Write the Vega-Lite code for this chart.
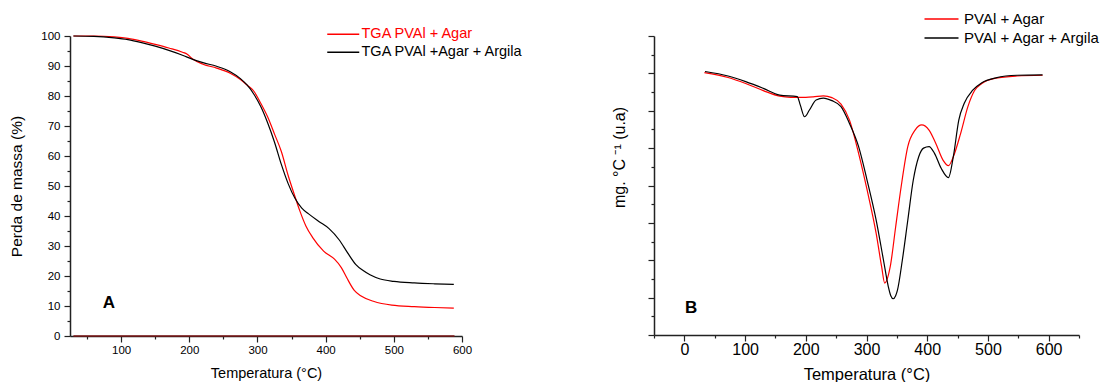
{
  "$schema": "https://vega.github.io/schema/vega-lite/v6.json",
  "background": "white",
  "padding": {"left": 9, "top": 11, "right": 0, "bottom": 0},
  "spacing": 87,
  "datasets": {
    "tga": [
      {"serie": "TGA PVAl + Agar", "temp": 30, "massa": 100},
      {"serie": "TGA PVAl + Agar", "temp": 60, "massa": 100},
      {"serie": "TGA PVAl + Agar", "temp": 90, "massa": 99.7},
      {"serie": "TGA PVAl + Agar", "temp": 110, "massa": 99.2},
      {"serie": "TGA PVAl + Agar", "temp": 130, "massa": 98.3},
      {"serie": "TGA PVAl + Agar", "temp": 150, "massa": 97.2},
      {"serie": "TGA PVAl + Agar", "temp": 170, "massa": 96.0},
      {"serie": "TGA PVAl + Agar", "temp": 190, "massa": 94.6},
      {"serie": "TGA PVAl + Agar", "temp": 197, "massa": 93.9},
      {"serie": "TGA PVAl + Agar", "temp": 205, "massa": 92.3},
      {"serie": "TGA PVAl + Agar", "temp": 220, "massa": 90.6},
      {"serie": "TGA PVAl + Agar", "temp": 240, "massa": 89.3},
      {"serie": "TGA PVAl + Agar", "temp": 260, "massa": 87.6},
      {"serie": "TGA PVAl + Agar", "temp": 275, "massa": 85.5},
      {"serie": "TGA PVAl + Agar", "temp": 285, "massa": 83.6},
      {"serie": "TGA PVAl + Agar", "temp": 295, "massa": 81.5},
      {"serie": "TGA PVAl + Agar", "temp": 305, "massa": 77.5},
      {"serie": "TGA PVAl + Agar", "temp": 315, "massa": 73.0},
      {"serie": "TGA PVAl + Agar", "temp": 325, "massa": 67.3},
      {"serie": "TGA PVAl + Agar", "temp": 335, "massa": 61.5},
      {"serie": "TGA PVAl + Agar", "temp": 345, "massa": 53.5},
      {"serie": "TGA PVAl + Agar", "temp": 355, "massa": 46.5},
      {"serie": "TGA PVAl + Agar", "temp": 362, "massa": 41.8},
      {"serie": "TGA PVAl + Agar", "temp": 371, "massa": 36.7},
      {"serie": "TGA PVAl + Agar", "temp": 381, "massa": 32.8},
      {"serie": "TGA PVAl + Agar", "temp": 397, "massa": 28.3},
      {"serie": "TGA PVAl + Agar", "temp": 413, "massa": 25.6},
      {"serie": "TGA PVAl + Agar", "temp": 423, "massa": 22.8},
      {"serie": "TGA PVAl + Agar", "temp": 431, "massa": 19.4},
      {"serie": "TGA PVAl + Agar", "temp": 442, "massa": 15.2},
      {"serie": "TGA PVAl + Agar", "temp": 452, "massa": 13.3},
      {"serie": "TGA PVAl + Agar", "temp": 470, "massa": 11.6},
      {"serie": "TGA PVAl + Agar", "temp": 497, "massa": 10.3},
      {"serie": "TGA PVAl + Agar", "temp": 530, "massa": 9.8},
      {"serie": "TGA PVAl + Agar", "temp": 560, "massa": 9.5},
      {"serie": "TGA PVAl + Agar", "temp": 588, "massa": 9.3},
      {"serie": "TGA PVAl +Agar + Argila", "temp": 30, "massa": 100},
      {"serie": "TGA PVAl +Agar + Argila", "temp": 60, "massa": 99.9},
      {"serie": "TGA PVAl +Agar + Argila", "temp": 90, "massa": 99.4},
      {"serie": "TGA PVAl +Agar + Argila", "temp": 110, "massa": 98.8},
      {"serie": "TGA PVAl +Agar + Argila", "temp": 130, "massa": 97.8},
      {"serie": "TGA PVAl +Agar + Argila", "temp": 150, "massa": 96.6},
      {"serie": "TGA PVAl +Agar + Argila", "temp": 170, "massa": 95.2},
      {"serie": "TGA PVAl +Agar + Argila", "temp": 190, "massa": 93.6},
      {"serie": "TGA PVAl +Agar + Argila", "temp": 205, "massa": 92.2},
      {"serie": "TGA PVAl +Agar + Argila", "temp": 220, "massa": 91.1},
      {"serie": "TGA PVAl +Agar + Argila", "temp": 240, "massa": 89.9},
      {"serie": "TGA PVAl +Agar + Argila", "temp": 260, "massa": 88.1},
      {"serie": "TGA PVAl +Agar + Argila", "temp": 275, "massa": 85.8},
      {"serie": "TGA PVAl +Agar + Argila", "temp": 285, "massa": 83.6},
      {"serie": "TGA PVAl +Agar + Argila", "temp": 295, "massa": 80.5},
      {"serie": "TGA PVAl +Agar + Argila", "temp": 305, "massa": 76.4},
      {"serie": "TGA PVAl +Agar + Argila", "temp": 315, "massa": 71.0},
      {"serie": "TGA PVAl +Agar + Argila", "temp": 325, "massa": 64.6},
      {"serie": "TGA PVAl +Agar + Argila", "temp": 335, "massa": 57.2},
      {"serie": "TGA PVAl +Agar + Argila", "temp": 345, "massa": 50.8},
      {"serie": "TGA PVAl +Agar + Argila", "temp": 355, "massa": 45.9},
      {"serie": "TGA PVAl +Agar + Argila", "temp": 365, "massa": 42.6},
      {"serie": "TGA PVAl +Agar + Argila", "temp": 375, "massa": 40.7},
      {"serie": "TGA PVAl +Agar + Argila", "temp": 390, "massa": 38.2},
      {"serie": "TGA PVAl +Agar + Argila", "temp": 405, "massa": 35.8},
      {"serie": "TGA PVAl +Agar + Argila", "temp": 420, "massa": 32.0},
      {"serie": "TGA PVAl +Agar + Argila", "temp": 432, "massa": 27.8},
      {"serie": "TGA PVAl +Agar + Argila", "temp": 444, "massa": 23.9},
      {"serie": "TGA PVAl +Agar + Argila", "temp": 455, "massa": 21.8},
      {"serie": "TGA PVAl +Agar + Argila", "temp": 465, "massa": 20.4},
      {"serie": "TGA PVAl +Agar + Argila", "temp": 480, "massa": 19.0},
      {"serie": "TGA PVAl +Agar + Argila", "temp": 500, "massa": 18.2},
      {"serie": "TGA PVAl +Agar + Argila", "temp": 530, "massa": 17.7},
      {"serie": "TGA PVAl +Agar + Argila", "temp": 560, "massa": 17.4},
      {"serie": "TGA PVAl +Agar + Argila", "temp": 588, "massa": 17.2}
    ],
    "base": [
      {"temp": 30, "massa": 0},
      {"temp": 589, "massa": 0}
    ],
    "labA": [{"label": "A", "temp": 82, "massa": 11}],
    "labB": [{"label": "B", "temp": 11, "dtg": 0.72}],
    "dtg": [
      {"serie": "PVAl + Agar", "temp": 33, "dtg": 7.02},
      {"serie": "PVAl + Agar", "temp": 72, "dtg": 6.89},
      {"serie": "PVAl + Agar", "temp": 101, "dtg": 6.73},
      {"serie": "PVAl + Agar", "temp": 130, "dtg": 6.54},
      {"serie": "PVAl + Agar", "temp": 157, "dtg": 6.39},
      {"serie": "PVAl + Agar", "temp": 175, "dtg": 6.36},
      {"serie": "PVAl + Agar", "temp": 200, "dtg": 6.36},
      {"serie": "PVAl + Agar", "temp": 212, "dtg": 6.37},
      {"serie": "PVAl + Agar", "temp": 229, "dtg": 6.40},
      {"serie": "PVAl + Agar", "temp": 243, "dtg": 6.35},
      {"serie": "PVAl + Agar", "temp": 258, "dtg": 6.18},
      {"serie": "PVAl + Agar", "temp": 272, "dtg": 5.75},
      {"serie": "PVAl + Agar", "temp": 287, "dtg": 4.86},
      {"serie": "PVAl + Agar", "temp": 301, "dtg": 3.88},
      {"serie": "PVAl + Agar", "temp": 316, "dtg": 2.71},
      {"serie": "PVAl + Agar", "temp": 325, "dtg": 1.82},
      {"serie": "PVAl + Agar", "temp": 330, "dtg": 1.39},
      {"serie": "PVAl + Agar", "temp": 339, "dtg": 1.82},
      {"serie": "PVAl + Agar", "temp": 348, "dtg": 2.89},
      {"serie": "PVAl + Agar", "temp": 357, "dtg": 3.96},
      {"serie": "PVAl + Agar", "temp": 368, "dtg": 5.04},
      {"serie": "PVAl + Agar", "temp": 380, "dtg": 5.48},
      {"serie": "PVAl + Agar", "temp": 391, "dtg": 5.62},
      {"serie": "PVAl + Agar", "temp": 403, "dtg": 5.48},
      {"serie": "PVAl + Agar", "temp": 414, "dtg": 5.13},
      {"serie": "PVAl + Agar", "temp": 426, "dtg": 4.68},
      {"serie": "PVAl + Agar", "temp": 435, "dtg": 4.53},
      {"serie": "PVAl + Agar", "temp": 443, "dtg": 4.77},
      {"serie": "PVAl + Agar", "temp": 455, "dtg": 5.39},
      {"serie": "PVAl + Agar", "temp": 467, "dtg": 6.11},
      {"serie": "PVAl + Agar", "temp": 478, "dtg": 6.54},
      {"serie": "PVAl + Agar", "temp": 490, "dtg": 6.73},
      {"serie": "PVAl + Agar", "temp": 513, "dtg": 6.87},
      {"serie": "PVAl + Agar", "temp": 548, "dtg": 6.93},
      {"serie": "PVAl + Agar", "temp": 590, "dtg": 6.95},
      {"serie": "PVAl + Agar + Argila", "temp": 34, "dtg": 7.05},
      {"serie": "PVAl + Agar + Argila", "temp": 72, "dtg": 6.93},
      {"serie": "PVAl + Agar + Argila", "temp": 101, "dtg": 6.78},
      {"serie": "PVAl + Agar + Argila", "temp": 130, "dtg": 6.60},
      {"serie": "PVAl + Agar + Argila", "temp": 157, "dtg": 6.42},
      {"serie": "PVAl + Agar + Argila", "temp": 186, "dtg": 6.38},
      {"serie": "PVAl + Agar + Argila", "temp": 191, "dtg": 6.15},
      {"serie": "PVAl + Agar + Argila", "temp": 198, "dtg": 5.84},
      {"serie": "PVAl + Agar + Argila", "temp": 206, "dtg": 6.02},
      {"serie": "PVAl + Agar + Argila", "temp": 217, "dtg": 6.29},
      {"serie": "PVAl + Agar + Argila", "temp": 229, "dtg": 6.34},
      {"serie": "PVAl + Agar + Argila", "temp": 243, "dtg": 6.27},
      {"serie": "PVAl + Agar + Argila", "temp": 258, "dtg": 6.11},
      {"serie": "PVAl + Agar + Argila", "temp": 272, "dtg": 5.66},
      {"serie": "PVAl + Agar + Argila", "temp": 287, "dtg": 5.04},
      {"serie": "PVAl + Agar + Argila", "temp": 301, "dtg": 4.14},
      {"serie": "PVAl + Agar + Argila", "temp": 316, "dtg": 3.07},
      {"serie": "PVAl + Agar + Argila", "temp": 328, "dtg": 2.0},
      {"serie": "PVAl + Agar + Argila", "temp": 336, "dtg": 1.29},
      {"serie": "PVAl + Agar + Argila", "temp": 340, "dtg": 1.05},
      {"serie": "PVAl + Agar + Argila", "temp": 344, "dtg": 0.97},
      {"serie": "PVAl + Agar + Argila", "temp": 348, "dtg": 1.05},
      {"serie": "PVAl + Agar + Argila", "temp": 351, "dtg": 1.20},
      {"serie": "PVAl + Agar + Argila", "temp": 359, "dtg": 2.0},
      {"serie": "PVAl + Agar + Argila", "temp": 368, "dtg": 3.07},
      {"serie": "PVAl + Agar + Argila", "temp": 377, "dtg": 4.14},
      {"serie": "PVAl + Agar + Argila", "temp": 386, "dtg": 4.77},
      {"serie": "PVAl + Agar + Argila", "temp": 394, "dtg": 5.0},
      {"serie": "PVAl + Agar + Argila", "temp": 403, "dtg": 5.04},
      {"serie": "PVAl + Agar + Argila", "temp": 412, "dtg": 4.86},
      {"serie": "PVAl + Agar + Argila", "temp": 423, "dtg": 4.46},
      {"serie": "PVAl + Agar + Argila", "temp": 435, "dtg": 4.21},
      {"serie": "PVAl + Agar + Argila", "temp": 443, "dtg": 4.77},
      {"serie": "PVAl + Agar + Argila", "temp": 452, "dtg": 5.75},
      {"serie": "PVAl + Agar + Argila", "temp": 461, "dtg": 6.20},
      {"serie": "PVAl + Agar + Argila", "temp": 475, "dtg": 6.55},
      {"serie": "PVAl + Agar + Argila", "temp": 490, "dtg": 6.75},
      {"serie": "PVAl + Agar + Argila", "temp": 513, "dtg": 6.88},
      {"serie": "PVAl + Agar + Argila", "temp": 548, "dtg": 6.95},
      {"serie": "PVAl + Agar + Argila", "temp": 590, "dtg": 6.96}
    ]
  },
  "resolve": {"scale": {"x": "independent", "y": "independent", "color": "independent"}, "legend": {"color": "independent"}},
  "hconcat": [
    {
      "width": 392,
      "height": 300,
      "layer": [
        {
          "data": {"name": "base"},
          "mark": {"type": "line", "color": "#7a1414", "strokeWidth": 1.6},
          "encoding": {
            "x": {"field": "temp", "type": "quantitative"},
            "y": {"field": "massa", "type": "quantitative"}
          }
        },
        {
          "data": {"name": "tga"},
          "mark": {"type": "line", "strokeWidth": 1.2, "interpolate": "monotone"},
          "encoding": {
            "x": {
              "field": "temp", "type": "quantitative",
              "scale": {"domain": [25, 600], "nice": false, "zero": false},
              "axis": {
                "title": "Temperatura (°C)",
                "values": [50, 100, 150, 200, 250, 300, 350, 400, 450, 500, 550, 600],
                "tickCount": 1000,
                "format": "d",
                "labelExpr": "datum.value % 100 == 0 ? datum.label : ''",
                "labelOverlap": false,
                "labelFlush": false,
                "tickSize": {"condition": {"test": "datum.value % 100 == 0", "value": 6}, "value": 3},
                "labelFontSize": 11.5,
                "labelPadding": 2.5,
                "titleFontSize": 14.5,
                "titlePadding": 10
              }
            },
            "y": {
              "field": "massa", "type": "quantitative",
              "scale": {"domain": [0, 100], "nice": false},
              "axis": {
                "title": "Perda de massa (%)",
                "values": [0, 5, 10, 15, 20, 25, 30, 35, 40, 45, 50, 55, 60, 65, 70, 75, 80, 85, 90, 95, 100],
                "tickCount": 1000,
                "format": "d",
                "labelExpr": "datum.value % 10 == 0 ? datum.label : ''",
                "labelOverlap": false,
                "labelAlign": "right",
                "tickSize": {"condition": {"test": "datum.value % 10 == 0", "value": 6}, "value": 3},
                "labelFontSize": 11.5,
                "labelPadding": 4,
                "titleFontSize": 15.5,
                "titlePadding": 16
              }
            },
            "color": {
              "field": "serie", "type": "nominal",
              "scale": {"domain": ["TGA PVAl + Agar", "TGA PVAl +Agar + Argila"], "range": ["#ff0000", "#000000"]},
              "legend": {
                "title": null,
                "orient": "none",
                "legendX": 255,
                "legendY": -9,
                "symbolType": "M-1,0H5.4",
                "symbolSize": 100,
                "symbolStrokeWidth": 1.3,
                "labelFontSize": 14.5,
                "labelOffset": 22,
                "rowPadding": 3,
                "padding": 0,
                "labelColor": {"expr": "datum.value == 'TGA PVAl + Agar' ? '#ff0000' : '#000000'"}
              }
            }
          }
        },
        {
          "data": {"name": "labA"},
          "mark": {"type": "text", "fontWeight": "bold", "fontSize": 17, "font": "Liberation Sans", "color": "#000"},
          "encoding": {
            "x": {"field": "temp", "type": "quantitative"},
            "y": {"field": "massa", "type": "quantitative"},
            "text": {"field": "label"}
          }
        }
      ]
    },
    {
      "width": 425,
      "height": 299,
      "layer": [
        {
          "data": {"name": "dtg"},
          "mark": {"type": "line", "strokeWidth": 1.2, "interpolate": "monotone"},
          "encoding": {
            "x": {
              "field": "temp", "type": "quantitative",
              "scale": {"domain": [-50, 650], "nice": false, "zero": false},
              "axis": {
                "title": "Temperatura (°C)",
                "values": [-50, 0, 50, 100, 150, 200, 250, 300, 350, 400, 450, 500, 550, 600, 650],
                "tickCount": 1000,
                "format": "d",
                "labelExpr": "datum.value % 100 == 0 ? datum.label : ''",
                "labelOverlap": false,
                "labelFlush": false,
                "tickSize": {"condition": {"test": "datum.value % 100 == 0", "value": 6}, "value": 3},
                "labelFontSize": 16,
                "labelPadding": 0,
                "titleFontSize": 16.5,
                "titlePadding": 9
              }
            },
            "y": {
              "field": "dtg", "type": "quantitative",
              "scale": {"domain": [0, 8], "nice": false},
              "axis": {
                "title": "mg. °C ⁻¹ (u.a)",
                "values": [0, 0.5, 1, 1.5, 2, 2.5, 3, 3.5, 4, 4.5, 5, 5.5, 6, 6.5, 7, 7.5, 8],
                "tickCount": 1000,
                "labels": false,
                "tickSize": {"condition": {"test": "datum.value % 1 == 0", "value": 6}, "value": 3},
                "titleFontSize": 16,
                "titlePadding": 20,
                "titleY": 121
              }
            },
            "color": {
              "field": "serie", "type": "nominal",
              "scale": {"domain": ["PVAl + Agar", "PVAl + Agar + Argila"], "range": ["#ff0000", "#000000"]},
              "legend": {
                "title": null,
                "orient": "none",
                "legendX": 268,
                "legendY": -24.5,
                "symbolType": "M-1,0H5.8",
                "symbolSize": 100,
                "symbolStrokeWidth": 1.3,
                "labelFontSize": 15,
                "labelOffset": 27,
                "rowPadding": 3,
                "padding": 0,
                "labelColor": "#000000"
              }
            }
          }
        },
        {
          "data": {"name": "labB"},
          "mark": {"type": "text", "fontWeight": "bold", "fontSize": 17, "font": "Liberation Sans", "color": "#000"},
          "encoding": {
            "x": {"field": "temp", "type": "quantitative"},
            "y": {"field": "dtg", "type": "quantitative"},
            "text": {"field": "label"}
          }
        }
      ]
    }
  ],
  "config": {
    "view": {"stroke": null},
    "font": "Liberation Sans",
    "axis": {
      "grid": false,
      "domainColor": "#222222",
      "domainWidth": 1.5,
      "tickColor": "#222222",
      "tickWidth": 1.2,
      "labelColor": "#000000",
      "titleColor": "#000000",
      "labelFont": "Liberation Sans",
      "titleFont": "Liberation Sans",
      "titleFontWeight": "normal"
    },
    "legend": {
      "labelFont": "Liberation Sans",
      "labelLimit": 0
    }
  }
}
